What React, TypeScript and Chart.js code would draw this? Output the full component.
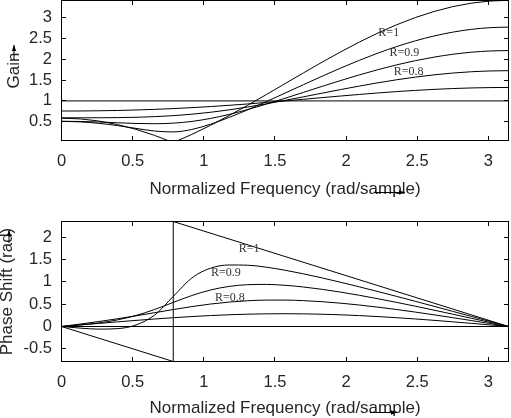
import { useEffect, useRef } from "react";
import { Chart, registerables } from "chart.js";

Chart.register(...registerables);

// ---- data ----
const OMEGA = [
  0, 0.1309, 0.2618, 0.3927, 0.5236, 0.6545, 0.7854, 0.9163, 1.0472, 1.1781, 1.309, 1.4399, 1.5708,
  1.7017, 1.8326, 1.9635, 2.0944, 2.2253, 2.3562, 2.4871, 2.618, 2.7489, 2.8798, 3.0107, 3.1416,
];

const FLAT_X = [0, 3.1416];
const GAIN_R0 = [1, 1];
const PHASE_R0 = [0, 0];

const GAIN_R02 = [
  0.7572, 0.7587, 0.7633, 0.7711, 0.7824, 0.7972, 0.8158, 0.8383, 0.8646, 0.8944, 0.9274, 0.9631, 1.0008,
  1.0398, 1.0792, 1.1181, 1.1558, 1.1912, 1.2238, 1.2526, 1.2772, 1.2968, 1.3112, 1.3199, 1.3229,
];
const GAIN_R04 = [
  0.5943, 0.5946, 0.5959, 0.5995, 0.6075, 0.6223, 0.6462, 0.6811, 0.7276, 0.7856, 0.8537, 0.9302, 1.0127,
  1.099, 1.1867, 1.2734, 1.3571, 1.4359, 1.5078, 1.5715, 1.6255, 1.6686, 1.7001, 1.7193, 1.7257,
];
const GAIN_R06 = [
  0.5115, 0.5068, 0.4937, 0.4758, 0.4591, 0.4527, 0.4665, 0.5082, 0.5793, 0.6762, 0.7929, 0.9235, 1.0628,
  1.2064, 1.3503, 1.4912, 1.6256, 1.7517, 1.8659, 1.9665, 2.051, 2.1192, 2.1685, 2.1985, 2.2085,
];
const GAIN_R08 = [
  0.5086, 0.4968, 0.4622, 0.4078, 0.3404, 0.2772, 0.2561, 0.3151, 0.4406, 0.6037, 0.7878, 0.9843, 1.1873,
  1.392, 1.5942, 1.7902, 1.9761, 2.1488, 2.3051, 2.4423, 2.558, 2.6501, 2.7171, 2.7577, 2.7714,
];
const GAIN_R1 = [
  0.5858, 0.5687, 0.5177, 0.4336, 0.3179, 0.1725, 0, 0.1967, 0.4142, 0.6489, 0.8966, 1.1532, 1.4142,
  1.6753, 1.9319, 2.1796, 2.4142, 2.6317, 2.8284, 3.0009, 3.1463, 3.262, 3.3461, 3.3971, 3.4142,
];

const PHASE_R02 = [
  0, 0.035, 0.0698, 0.1039, 0.1369, 0.1683, 0.1974, 0.2234, 0.2457, 0.2636, 0.2766, 0.2842, 0.2865,
  0.2834, 0.2752, 0.262, 0.2443, 0.2226, 0.1974, 0.1691, 0.1383, 0.1055, 0.0712, 0.0358, 0,
];
const PHASE_R04 = [
  0, 0.0546, 0.1117, 0.1733, 0.2398, 0.31, 0.3805, 0.4467, 0.5039, 0.5483, 0.578, 0.5925, 0.5927,
  0.58, 0.5561, 0.5228, 0.4815, 0.4337, 0.3805, 0.3231, 0.2623, 0.1988, 0.1336, 0.0671, 0,
];
const PHASE_R06 = [
  0, 0.0347, 0.0803, 0.148, 0.2475, 0.3822, 0.5404, 0.6951, 0.8188, 0.8993, 0.9385, 0.9443, 0.9246,
  0.886, 0.8335, 0.7704, 0.6993, 0.6222, 0.5404, 0.4551, 0.367, 0.2769, 0.1853, 0.0929, 0,
];
const PHASE_R08 = [
  0, -0.0361, -0.0588, -0.0481, 0.0335, 0.2573, 0.6747, 1.0903, 1.3084, 1.38, 1.3755, 1.3306, 1.2628,
  1.1806, 1.0891, 0.9912, 0.8888, 0.783, 0.6747, 0.5646, 0.4532, 0.3407, 0.2275, 0.1139, 0,
];
const PHASE_R1_X = [0, 0.7854, 0.7854, 3.1416];
const PHASE_R1 = [0, -0.7854, 2.3562, 0];

const X_TICKS = [0, 0.5, 1, 1.5, 2, 2.5, 3];
const GAIN_TICKS = [0.5, 1, 1.5, 2, 2.5, 3];
const PHASE_TICKS = [-0.5, 0, 0.5, 1, 1.5, 2];

const CURVE_LABELS = ["R=1", "R=0.9", "R=0.8"];
const GAIN_LABEL_X = [2.3, 2.41, 2.44];
const GAIN_LABEL_Y = [2.63, 2.15, 1.69];
const PHASE_LABEL_X = [1.318, 1.156, 1.184];
const PHASE_LABEL_Y = [1.739, 1.2, 0.64];

// ---- styling ----
const SANS = '"Liberation Sans", Arial, Helvetica, sans-serif';
const SERIF = '"Liberation Serif", "Times New Roman", serif';
const TEXT = "#262626";
const TICK_LEN = 4.5;

type Panel = {
  top: number;
  height: number;
  padTop: number;
  xAxisHeight: number;
  xTitlePadBottom: number;
  yTitle: string;
  yTitlePadTop: number;
  yMin: number;
  yMax: number;
  yTicks: number[];
  labelX: number[];
  labelY: number[];
  arrows: number[][]; // x1,y1,x2,y2 in canvas pixels
  datasets: any[];
};

const pts = (xs: number[], ys: number[]) => xs.map((x, i) => ({ x, y: ys[i] }));

const smooth = (xs: number[], ys: number[]) => ({
  data: pts(xs, ys),
  borderColor: "#000",
  borderWidth: 1,
  pointRadius: 0,
  cubicInterpolationMode: "monotone",
  fill: false,
});
const straight = (xs: number[], ys: number[]) => ({
  data: pts(xs, ys),
  borderColor: "#000",
  borderWidth: 1,
  pointRadius: 0,
  tension: 0,
  fill: false,
});

const TOP: Panel = {
  top: 0,
  height: 210,
  padTop: 0.5,
  xAxisHeight: 69.5,
  xTitlePadBottom: 12,
  yTitle: "Gain",
  yTitlePadTop: 6,
  yMin: 0.05,
  yMax: 3.41,
  yTicks: GAIN_TICKS,
  labelX: GAIN_LABEL_X,
  labelY: GAIN_LABEL_Y,
  arrows: [
    [14, 60, 14, 45],
    [374, 192.5, 405, 192.5],
  ],
  datasets: [
    straight(FLAT_X, GAIN_R0),
    smooth(OMEGA, GAIN_R02),
    smooth(OMEGA, GAIN_R04),
    smooth(OMEGA, GAIN_R06),
    smooth(OMEGA, GAIN_R08),
    straight(OMEGA, GAIN_R1),
  ],
};

const BOTTOM: Panel = {
  top: 210,
  height: 208,
  padTop: 11.5,
  xAxisHeight: 56.5,
  xTitlePadBottom: 1.3,
  yTitle: "Phase Shift (rad)",
  yTitlePadTop: -1.5,
  yMin: -0.7854,
  yMax: 2.3562,
  yTicks: PHASE_TICKS,
  labelX: PHASE_LABEL_X,
  labelY: PHASE_LABEL_Y,
  arrows: [
    [9, 33, 9, 20],
    [370, 202.5, 397, 202.5],
  ],
  datasets: [
    straight(FLAT_X, PHASE_R0),
    smooth(OMEGA, PHASE_R02),
    smooth(OMEGA, PHASE_R04),
    smooth(OMEGA, PHASE_R06),
    smooth(OMEGA, PHASE_R08),
    straight(PHASE_R1_X, PHASE_R1),
  ],
};

function decor(panel: Panel) {
  return {
    id: "decor",
    afterDatasetsDraw(chart: any) {
      const { ctx, chartArea: a, scales } = chart;
      const xs = scales.x;
      const ys = scales.y;
      ctx.save();
      ctx.strokeStyle = "#000";
      ctx.lineWidth = 1;
      ctx.strokeRect(a.left, a.top, a.right - a.left, a.bottom - a.top);
      ctx.beginPath();
      for (const v of X_TICKS) {
        const px = Math.round(xs.getPixelForValue(v) - 0.5) + 0.5;
        ctx.moveTo(px, a.bottom);
        ctx.lineTo(px, a.bottom - TICK_LEN);
        ctx.moveTo(px, a.top);
        ctx.lineTo(px, a.top + TICK_LEN);
      }
      for (const v of panel.yTicks) {
        const py = Math.round(ys.getPixelForValue(v) - 0.5) + 0.5;
        ctx.moveTo(a.left, py);
        ctx.lineTo(a.left + TICK_LEN, py);
        ctx.moveTo(a.right, py);
        ctx.lineTo(a.right - TICK_LEN, py);
      }
      ctx.stroke();

      ctx.fillStyle = "#333";
      ctx.font = `12px ${SERIF}`;
      ctx.textAlign = "center";
      ctx.textBaseline = "middle";
      CURVE_LABELS.forEach((t, i) => {
        ctx.fillText(t, xs.getPixelForValue(panel.labelX[i]), ys.getPixelForValue(panel.labelY[i]));
      });
      ctx.restore();
    },
    afterDraw(chart: any) {
      const { ctx } = chart;
      ctx.save();
      ctx.strokeStyle = "#000";
      ctx.fillStyle = "#000";
      ctx.lineWidth = 1;
      for (const [x1, y1, x2, y2] of panel.arrows) {
        ctx.beginPath();
        ctx.moveTo(x1, y1);
        ctx.lineTo(x2, y2);
        ctx.stroke();
        const ang = Math.atan2(y2 - y1, x2 - x1);
        const hl = 6;
        const hw = 2.2;
        ctx.beginPath();
        ctx.moveTo(x2, y2);
        ctx.lineTo(
          x2 - hl * Math.cos(ang) + hw * Math.sin(ang),
          y2 - hl * Math.sin(ang) - hw * Math.cos(ang)
        );
        ctx.lineTo(
          x2 - hl * Math.cos(ang) - hw * Math.sin(ang),
          y2 - hl * Math.sin(ang) + hw * Math.cos(ang)
        );
        ctx.closePath();
        ctx.fill();
      }
      ctx.restore();
    },
  };
}

function makeConfig(panel: Panel): any {
  return {
    type: "line",
    data: { datasets: panel.datasets },
    options: {
      animation: false,
      responsive: false,
      maintainAspectRatio: false,
      devicePixelRatio: 1,
      events: [],
      layout: { padding: { top: panel.padTop, left: 0, right: 2.5, bottom: 0 } },
      plugins: { legend: { display: false }, tooltip: { enabled: false }, title: { display: false } },
      scales: {
        x: {
          type: "linear",
          min: 0,
          max: 3.1416,
          afterBuildTicks: (s: any) => {
            s.ticks = X_TICKS.map((v) => ({ value: v }));
          },
          afterFit: (s: any) => {
            s.height = panel.xAxisHeight;
            s.paddingLeft = 0;
            s.paddingRight = 0;
            s.paddingTop = 0;
            s.paddingBottom = 0;
          },
          ticks: {
            autoSkip: false,
            maxRotation: 0,
            minRotation: 0,
            padding: 11.5,
            color: TEXT,
            font: { family: SANS, size: 16.5 },
            callback: (v: number) => String(v),
          },
          grid: { display: false, drawTicks: false },
          border: { display: false },
          title: {
            display: true,
            text: "Normalized Frequency (rad/sample)",
            color: TEXT,
            font: { family: SANS, size: 17, lineHeight: 1 },
            padding: { top: 0, bottom: panel.xTitlePadBottom },
          },
        },
        y: {
          type: "linear",
          min: panel.yMin,
          max: panel.yMax,
          afterBuildTicks: (s: any) => {
            s.ticks = panel.yTicks.map((v) => ({ value: v }));
          },
          afterFit: (s: any) => {
            s.width = 61.5;
            s.paddingLeft = 0;
            s.paddingRight = 0;
            s.paddingTop = 0;
            s.paddingBottom = 0;
          },
          ticks: {
            autoSkip: false,
            padding: 9.5,
            color: TEXT,
            font: { family: SANS, size: 16.5 },
            callback: (v: number) => String(v),
          },
          grid: { display: false, drawTicks: false },
          border: { display: false },
          title: {
            display: true,
            text: panel.yTitle,
            color: TEXT,
            font: { family: SANS, size: 17, lineHeight: 1 },
            padding: { top: panel.yTitlePadTop, bottom: 0 },
          },
        },
      },
    },
    plugins: [decor(panel)],
  };
}

export default function App() {
  const topRef = useRef<HTMLCanvasElement>(null);
  const botRef = useRef<HTMLCanvasElement>(null);

  useEffect(() => {
    const c1 = new Chart(topRef.current as HTMLCanvasElement, makeConfig(TOP));
    const c2 = new Chart(botRef.current as HTMLCanvasElement, makeConfig(BOTTOM));
    return () => {
      c1.destroy();
      c2.destroy();
    };
  }, []);

  return (
    <div style={{ position: "absolute", left: 0, top: 0, width: 511, height: 418, background: "#fff" }}>
      <canvas
        ref={topRef}
        width={511}
        height={TOP.height}
        style={{ position: "absolute", left: 0, top: TOP.top, width: 511, height: TOP.height }}
      />
      <canvas
        ref={botRef}
        width={511}
        height={BOTTOM.height}
        style={{ position: "absolute", left: 0, top: BOTTOM.top, width: 511, height: BOTTOM.height }}
      />
    </div>
  );
}
